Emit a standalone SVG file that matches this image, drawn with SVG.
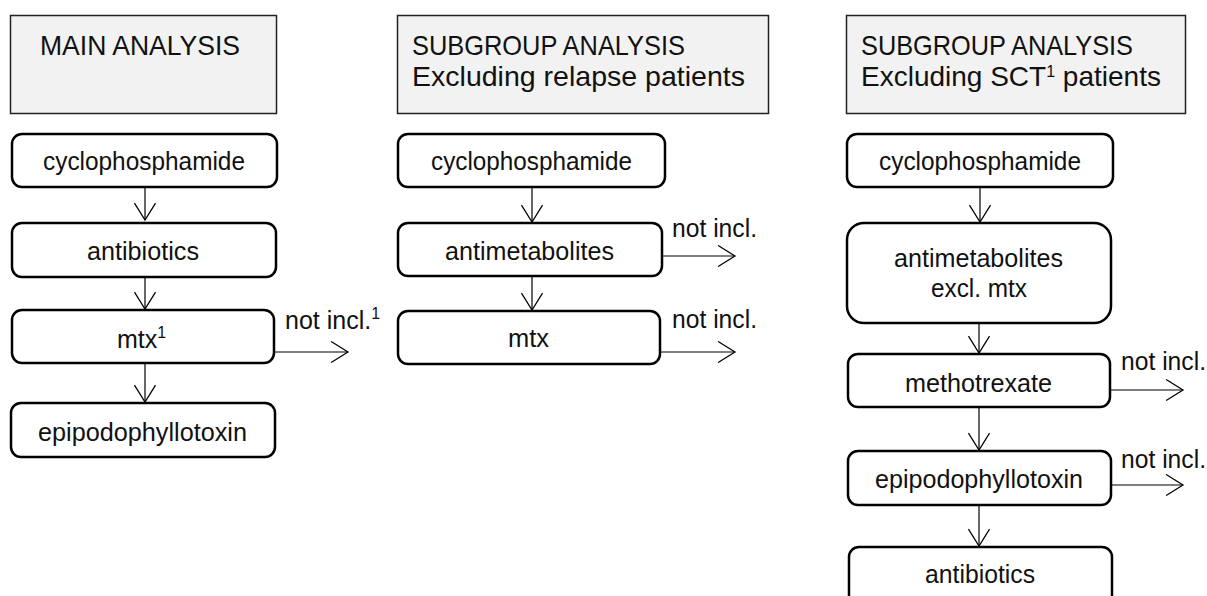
<svg xmlns="http://www.w3.org/2000/svg" width="1207" height="596" viewBox="0 0 1207 596">
<style>
.hdr{fill:#f2f2f2;stroke:#222;stroke-width:1.5}
.node{fill:#fff;stroke:#000;stroke-width:2.5}
text{font-family:"Liberation Sans",Arial,sans-serif;fill:#111}
.ht{font-size:28px}
.nt{font-size:25px;text-anchor:middle}
.lbl{font-size:25px}
.sup{font-size:16px}
.con{fill:none;stroke:#000;stroke-width:1.2}
</style>
<defs>
<marker id="ah" markerUnits="userSpaceOnUse" markerWidth="20" markerHeight="24" viewBox="-17 -11 19 22" refX="0" refY="0" orient="auto">
<path d="M-16,-10 L0,0 L-16,10" fill="none" stroke="#000" stroke-width="1.2"/>
</marker>
</defs>
<rect width="1207" height="596" fill="#fff"/>
<g id="hdr-main"><rect class="hdr" x="10.5" y="15.5" width="266" height="98"/><text class="ht" x="40" y="55" textLength="200" lengthAdjust="spacingAndGlyphs">MAIN ANALYSIS</text></g>
<g id="hdr-relapse"><rect class="hdr" x="397.5" y="15.5" width="371" height="98"/><text class="ht" x="412" y="55" textLength="273" lengthAdjust="spacingAndGlyphs">SUBGROUP ANALYSIS</text><text class="ht" x="412" y="86" textLength="333" lengthAdjust="spacingAndGlyphs">Excluding relapse patients</text></g>
<g id="hdr-sct"><rect class="hdr" x="846.5" y="15.5" width="339" height="98"/><text class="ht" x="861" y="55" textLength="272" lengthAdjust="spacingAndGlyphs">SUBGROUP ANALYSIS</text><text class="ht" x="861" y="86">Excluding SCT<tspan class="sup" dy="-9">1</tspan><tspan dy="9"> patients</tspan></text></g>

<g id="m-cyclo"><rect class="node" x="12" y="134" width="265" height="53" rx="10"/><text class="nt" x="144" y="170" textLength="202" lengthAdjust="spacingAndGlyphs">cyclophosphamide</text></g>
<g id="m-antibiotics"><rect class="node" x="12" y="223" width="264" height="54" rx="10"/><text class="nt" x="143" y="260" textLength="112" lengthAdjust="spacingAndGlyphs">antibiotics</text></g>
<g id="m-mtx"><rect class="node" x="12" y="310" width="262" height="53" rx="10"/><text class="lbl" x="117" y="348">mtx<tspan class="sup" dy="-10">1</tspan></text></g>
<g id="m-epipodo"><rect class="node" x="11" y="403" width="264" height="54" rx="10"/><text class="nt" x="142.5" y="441" textLength="209" lengthAdjust="spacingAndGlyphs">epipodophyllotoxin</text></g>
<g id="m-notincl"><text class="lbl" x="285" y="329">not incl.<tspan class="sup" dy="-10">1</tspan></text></g>

<g id="r-cyclo"><rect class="node" x="398" y="134" width="267" height="53" rx="10"/><text class="nt" x="531.5" y="170" textLength="201" lengthAdjust="spacingAndGlyphs">cyclophosphamide</text></g>
<g id="r-antimet"><rect class="node" x="398" y="223" width="264" height="53" rx="10"/><text class="nt" x="529.5" y="260" textLength="169" lengthAdjust="spacingAndGlyphs">antimetabolites</text></g>
<g id="r-mtx"><rect class="node" x="398" y="311" width="262" height="53" rx="10"/><text class="nt" x="528.5" y="347" textLength="41" lengthAdjust="spacingAndGlyphs">mtx</text></g>
<g id="r-notincl1"><text class="lbl" x="672" y="237" textLength="85" lengthAdjust="spacingAndGlyphs">not incl.</text></g>
<g id="r-notincl2"><text class="lbl" x="672" y="328" textLength="85" lengthAdjust="spacingAndGlyphs">not incl.</text></g>

<g id="s-cyclo"><rect class="node" x="847" y="134" width="266" height="53" rx="10"/><text class="nt" x="980" y="170" textLength="202" lengthAdjust="spacingAndGlyphs">cyclophosphamide</text></g>
<g id="s-antimet"><rect class="node" x="847" y="223" width="264" height="100" rx="17"/><text class="nt" x="978.5" y="267" textLength="169" lengthAdjust="spacingAndGlyphs">antimetabolites</text><text class="nt" x="979" y="297" textLength="96" lengthAdjust="spacingAndGlyphs">excl. mtx</text></g>
<g id="s-methotrexate"><rect class="node" x="848" y="354" width="262" height="53" rx="10"/><text class="nt" x="978.5" y="392" textLength="147" lengthAdjust="spacingAndGlyphs">methotrexate</text></g>
<g id="s-epipodo"><rect class="node" x="848" y="451" width="263" height="54" rx="10"/><text class="nt" x="979" y="488" textLength="208" lengthAdjust="spacingAndGlyphs">epipodophyllotoxin</text></g>
<g id="s-antibiotics"><rect class="node" x="849" y="547" width="263" height="60" rx="10"/><text class="nt" x="980" y="583" textLength="110" lengthAdjust="spacingAndGlyphs">antibiotics</text></g>
<g id="s-notincl1"><text class="lbl" x="1121" y="370" textLength="85" lengthAdjust="spacingAndGlyphs">not incl.</text></g>
<g id="s-notincl2"><text class="lbl" x="1121" y="468" textLength="85" lengthAdjust="spacingAndGlyphs">not incl.</text></g>

<g id="connectors">
<path class="con" marker-end="url(#ah)" d="M145,188 V220"/>
<path class="con" marker-end="url(#ah)" d="M145,278 V309"/>
<path class="con" marker-end="url(#ah)" d="M145,364 V402"/>
<path class="con" marker-end="url(#ah)" d="M275,352 H348"/>
<path class="con" marker-end="url(#ah)" d="M532,188 V222"/>
<path class="con" marker-end="url(#ah)" d="M532,277 V310"/>
<path class="con" marker-end="url(#ah)" d="M663,256 H735"/>
<path class="con" marker-end="url(#ah)" d="M661,352 H735"/>
<path class="con" marker-end="url(#ah)" d="M980,188 V222"/>
<path class="con" marker-end="url(#ah)" d="M979,324 V353"/>
<path class="con" marker-end="url(#ah)" d="M979,408 V450"/>
<path class="con" marker-end="url(#ah)" d="M979,506 V546"/>
<path class="con" marker-end="url(#ah)" d="M1111,390 H1183"/>
<path class="con" marker-end="url(#ah)" d="M1112,485 H1183"/>
</g>
</svg>
